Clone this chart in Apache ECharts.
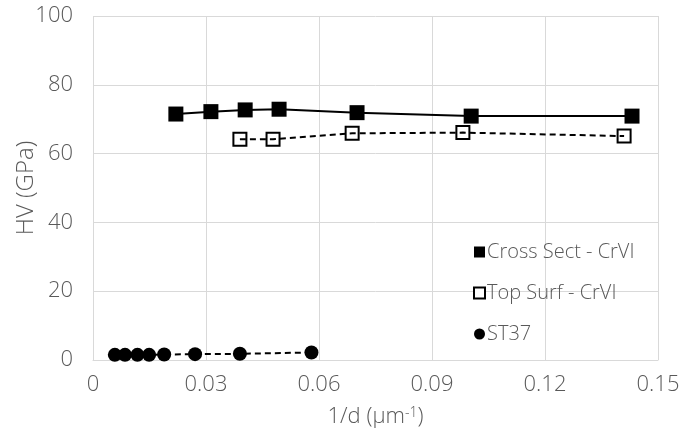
<!DOCTYPE html>
<html><head><meta charset="utf-8">
<script src="https://cdn.jsdelivr.net/npm/echarts@6/dist/echarts.min.js"></script>
<style>html,body{margin:0;padding:0;background:#fff}#c{width:699px;height:436px}</style>
</head><body><div id="c"></div>
<script>
const crossX = [0.022, 0.0313, 0.0404, 0.0494, 0.0701, 0.1004, 0.1431];
const crossY = [71.5, 72.2, 72.7, 72.9, 71.9, 70.9, 70.9];
const topX = [0.039, 0.0478, 0.0688, 0.0982, 0.141];
const topY = [64.2, 64.2, 65.9, 66.1, 65.1];
const stX = [0.0058, 0.0085, 0.0118, 0.0149, 0.0189, 0.0271, 0.039, 0.058];
const stY = [1.5, 1.5, 1.5, 1.5, 1.6, 1.7, 1.8, 2.2];
const xTicks = [0, 0.03, 0.06, 0.09, 0.12, 0.15];
const yTicks = [0, 20, 40, 60, 80, 100];
const names = ['Cross Sect - CrVI', 'Top Surf - CrVI', 'ST37'];

const zip = (a, b) => a.map((v, i) => [v, b[i]]);
const font = '"Open Sans", "Noto Sans", sans-serif';
const grey = '#595959';
const W = 300;
const chart = echarts.init(document.getElementById('c'));
chart.setOption({
  animation: false,
  textStyle: { fontFamily: font, fontWeight: W },
  grid: { left: 93, right: 41, top: 16, bottom: 76, containLabel: false, outerBoundsMode: 'none' },
  xAxis: {
    type: 'value', min: xTicks[0], max: xTicks[xTicks.length - 1], interval: 0.03,
    name: '1/d (µm{sup|-1})', nameLocation: 'middle', nameGap: 46, nameMoveOverlap: false,
    nameTextStyle: { fontSize: 22, color: grey, fontFamily: font, fontWeight: W,
      rich: { sup: { fontSize: 14, color: grey, verticalAlign: 'top', padding: [0, 0, 8, 0], fontFamily: font, fontWeight: W } } },
    axisLine: { show: true, lineStyle: { color: '#d9d9d9', width: 1 } },
    axisTick: { show: false },
    splitLine: { show: true, lineStyle: { color: '#d9d9d9', width: 1 } },
    axisLabel: { fontSize: 22, color: grey, margin: 14, fontFamily: font, fontWeight: W,
      formatter: v => { const t = xTicks.find(x => Math.abs(x - v) < 1e-9); return t === undefined ? '' : String(t); } }
  },
  yAxis: {
    type: 'value', min: yTicks[0], max: yTicks[yTicks.length - 1], interval: 20,
    name: 'HV (GPa)', nameLocation: 'middle', nameGap: 55, nameRotate: 90, nameMoveOverlap: false,
    nameTextStyle: { fontSize: 24, color: grey, fontFamily: font, fontWeight: W },
    axisLine: { show: false }, axisTick: { show: false },
    splitLine: { show: true, lineStyle: { color: '#d9d9d9', width: 1 } },
    axisLabel: { fontSize: 22, color: grey, margin: 20, fontFamily: font, fontWeight: W }
  },
  legend: {
    orient: 'vertical', left: 468, top: 237, itemGap: 21, itemWidth: 11, itemHeight: 11,
    textStyle: { fontSize: 20, color: grey, fontFamily: font, fontWeight: W, padding: [0, 0, 0, -3] },
    data: [
      { name: names[0], icon: 'rect', itemStyle: { color: '#000', borderWidth: 0 } },
      { name: names[1], icon: 'rect', itemStyle: { color: '#fff', borderColor: '#000', borderWidth: 2 } },
      { name: names[2], icon: 'circle', itemStyle: { color: '#000', borderWidth: 0 } }
    ]
  },
  series: [
    { name: names[0], type: 'line', data: zip(crossX, crossY), symbol: 'rect', symbolSize: 15,
      itemStyle: { color: '#000' }, lineStyle: { color: '#000', width: 2 } },
    { name: names[1], type: 'line', data: zip(topX, topY), symbol: 'rect', symbolSize: 13,
      itemStyle: { color: 'rgba(255,255,255,0)', borderColor: '#000', borderWidth: 2 },
      lineStyle: { color: '#000', width: 2, type: [6, 4] } },
    { name: names[2], type: 'line', data: zip(stX, stY), symbol: 'circle', symbolSize: 14,
      itemStyle: { color: '#000' }, lineStyle: { color: '#000', width: 2, type: [6, 4] } }
  ]
});
</script></body></html>
